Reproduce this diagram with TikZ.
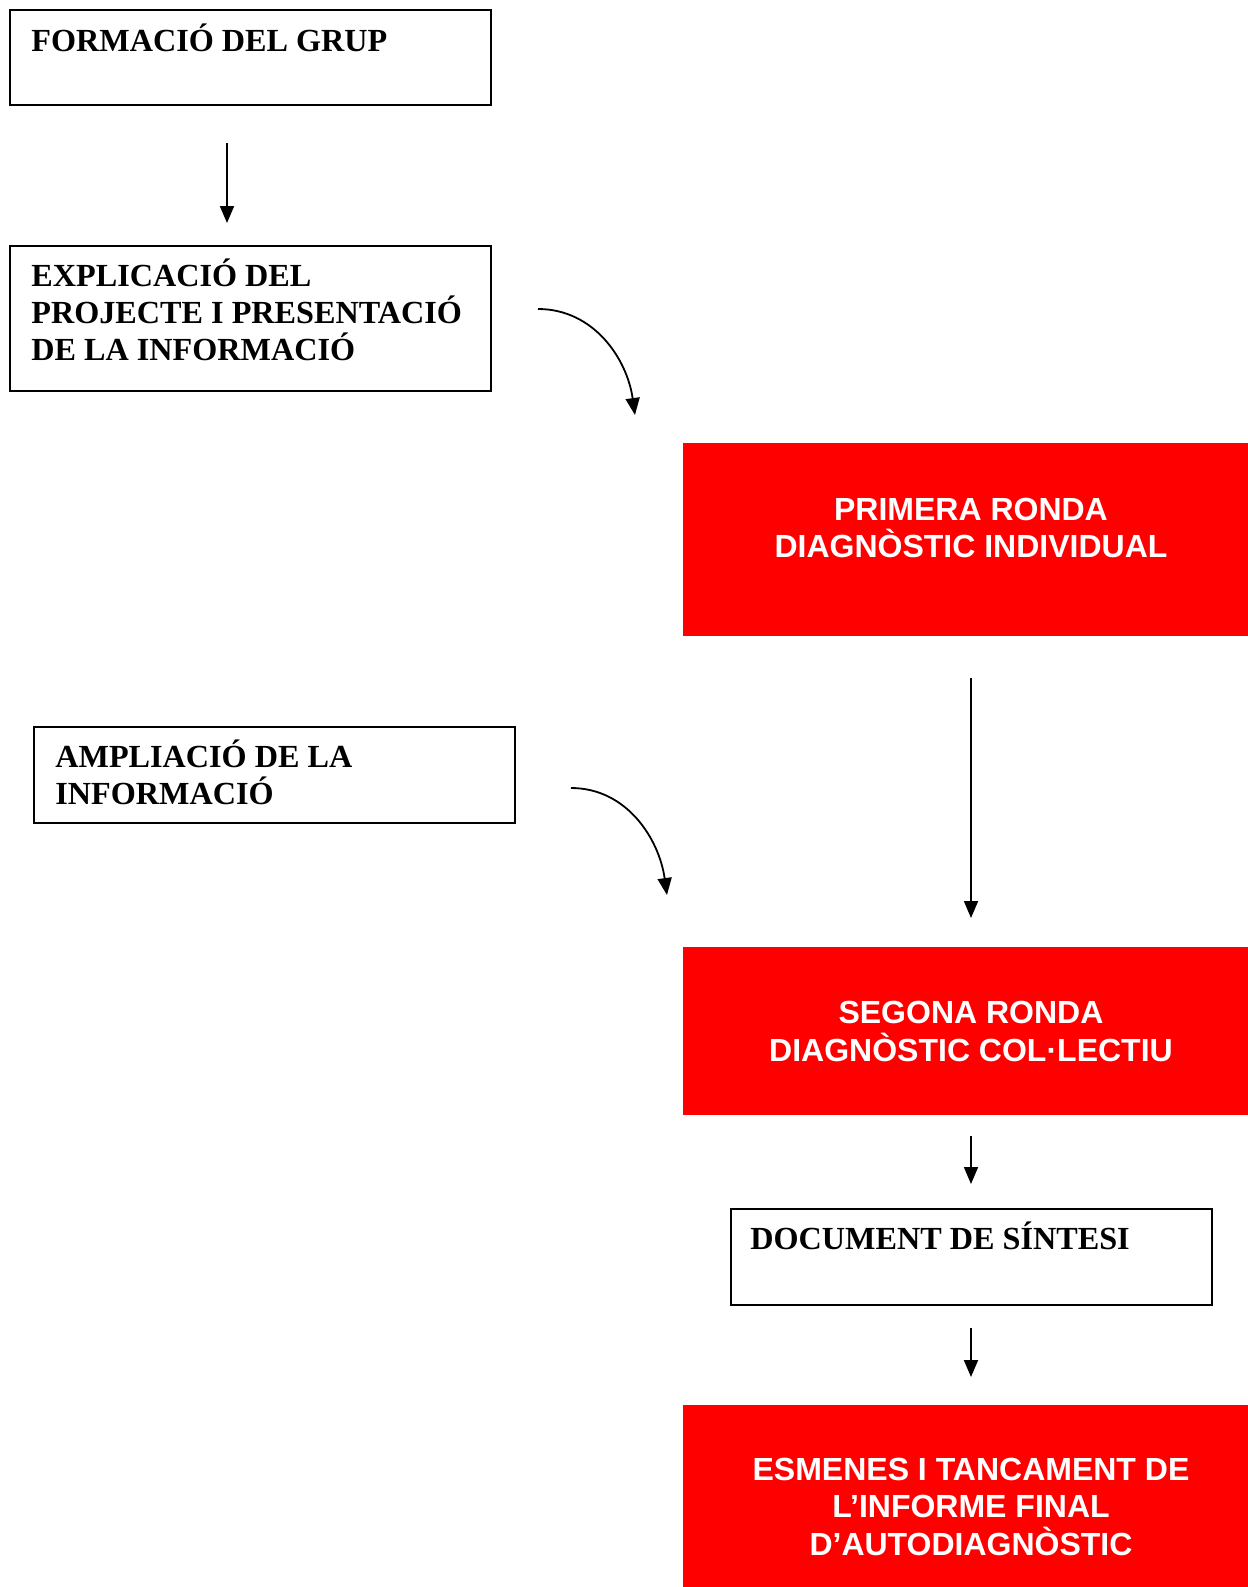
\documentclass[tikz,border=0pt]{standalone}
\usepackage{fontspec}
\setmainfont{Liberation Serif}
\newfontfamily\arialfont{Liberation Sans}
\usetikzlibrary{arrows.meta}
\definecolor{boxred}{RGB}{255,0,0}
\tikzset{
  wbox/.style={draw=black, line width=1pt, rectangle, inner sep=0pt, minimum width=240.5pt},
  rbox/.style={fill=boxred, rectangle, inner sep=0pt, minimum width=282.5pt},
  stxt/.style={anchor=base west, inner sep=0pt, font=\fontsize{16.1}{18.5}\selectfont\bfseries},
  rtxt/.style={anchor=base, inner sep=0pt, text=white, font=\fontsize{16}{18.5}\selectfont\arialfont\bfseries},
  arr/.style={line width=0.9pt, -{Triangle[length=8.5pt,width=7pt]}},
}
\begin{document}
\begin{tikzpicture}[x=0.5pt,y=-0.5pt]
\useasboundingbox (0,0) rectangle (1248,1587);
\fill[white] (0,0) rectangle (1248,1587);
% boxes
\node (b1) [wbox, minimum height=47.5pt] at (250.5,57.5) {};
\node (b2) [wbox, minimum height=72.5pt] at (250.5,318.5) {};
\node (b3) [wbox, minimum height=48pt] at (274.5,775) {};
\node (b4) [wbox, minimum height=48pt] at (971.5,1257) {};
\node (r1) [rbox, minimum height=96.5pt] at (965.5,539.5) {};
\node (r2) [rbox, minimum height=84pt] at (965.5,1031) {};
\node (r3) [rbox, minimum height=97.5pt] at (965.5,1502.5) {};
% texts
\node (t1) [stxt] at (31,51) {FORMACIÓ DEL GRUP};
\node (t2a) [stxt] at (31,286) {EXPLICACIÓ DEL};
\node (t2b) [stxt] at (31,323) {PROJECTE I PRESENTACIÓ};
\node (t2c) [stxt] at (31,360) {DE LA INFORMACIÓ};
\node (t3a) [stxt] at (55,767) {AMPLIACIÓ DE LA};
\node (t3b) [stxt] at (55,804) {INFORMACIÓ};
\node (t4) [stxt] at (750,1249) {DOCUMENT DE SÍNTESI};
\node (u1a) [rtxt] at (971,520) {PRIMERA RONDA};
\node (u1b) [rtxt] at (971,557) {DIAGNÒSTIC INDIVIDUAL};
\node (u2a) [rtxt] at (971,1023) {SEGONA RONDA};
\node (u2b) [rtxt] at (971,1061) {DIAGNÒSTIC COL·LECTIU};
\node (u3a) [rtxt] at (971,1480) {ESMENES I TANCAMENT DE};
\node (u3b) [rtxt] at (971,1517) {L’INFORME FINAL};
\node (u3c) [rtxt] at (971,1555) {D’AUTODIAGNÒSTIC};
% arrow end points
\coordinate (a1s) at (227,143);
\coordinate (a1e) at (227,223);
\coordinate (c1s) at (538,309);
\coordinate (c1e) at (635,415);
\coordinate (v1s) at (971,678);
\coordinate (v1e) at (971,918);
\coordinate (c2s) at (571,788);
\coordinate (c2e) at (667,895);
\coordinate (v2s) at (971,1136);
\coordinate (v2e) at (971,1184);
\coordinate (v3s) at (971,1328);
\coordinate (v3e) at (971,1377);
% connectors
\draw[arr] (a1s) -- (a1e);
\draw[arr] (c1s) to[out=0,in=98] (c1e);
\draw[arr] (v1s) -- (v1e);
\draw[arr] (c2s) to[out=0,in=98] (c2e);
\draw[arr] (v2s) -- (v2e);
\draw[arr] (v3s) -- (v3e);
\end{tikzpicture}
\end{document}
